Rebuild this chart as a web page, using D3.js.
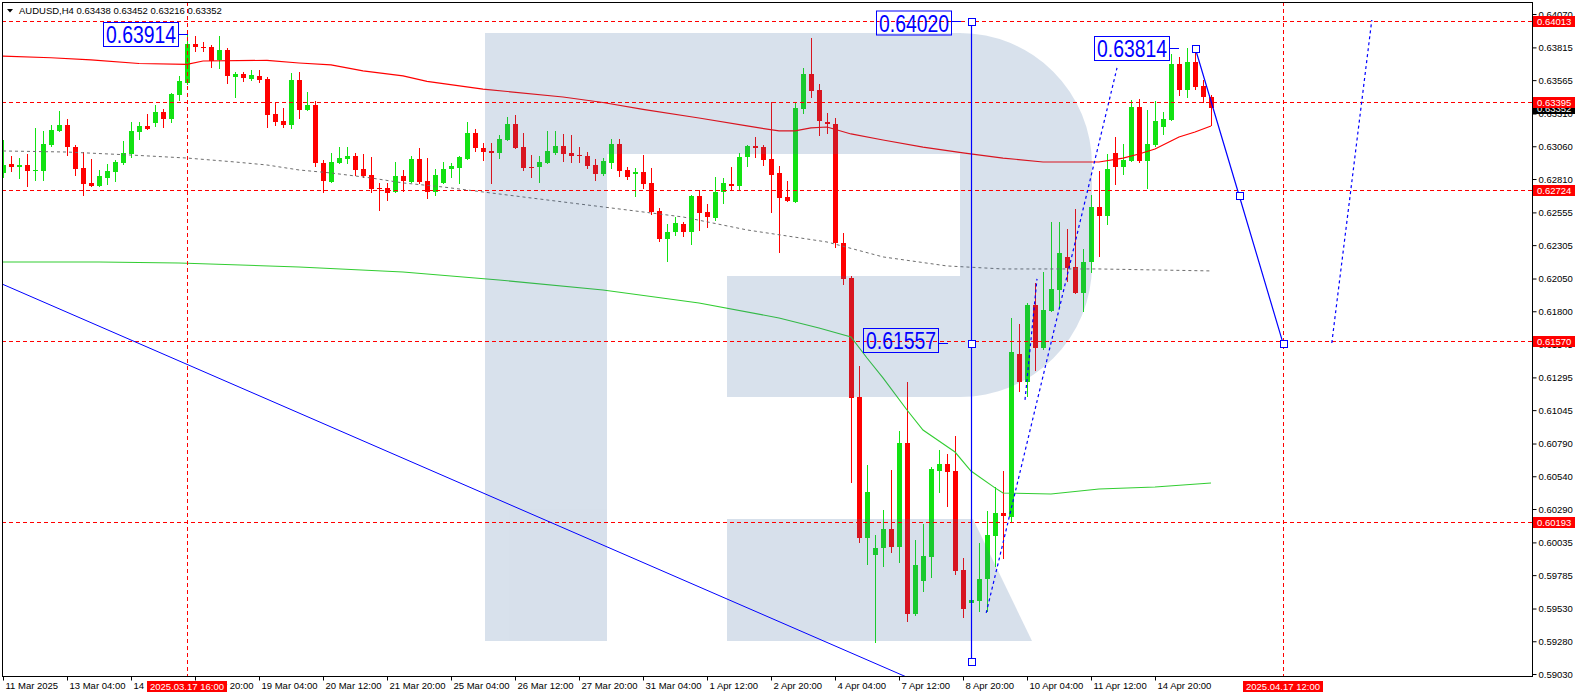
<!DOCTYPE html>
<html><head><meta charset="utf-8">
<script src="https://cdn.jsdelivr.net/npm/d3@7"></script>
<style>body{margin:0;background:#fff;} svg{display:block;}</style>
</head><body>
<svg id="c" width="1578" height="698"></svg>
<script>
// ---------------- DATA ----------------
const symbolTitle = "AUDUSD,H4";
const headerValues = ["0.63438", "0.63452", "0.63216", "0.63352"];

const opens = [0.62856,0.62925,0.62902,0.62917,0.62871,0.62871,0.63070,0.63177,0.63222,0.63054,
0.62894,0.62780,0.62757,0.62818,0.62864,0.62932,0.63001,0.63169,0.63215,0.63238,
0.63322,0.63268,0.63452,0.63543,0.63841,0.63818,0.63818,0.63719,0.63795,0.63589,
0.63612,0.63574,0.63597,0.63574,0.63306,0.63253,0.63222,0.63566,0.63337,0.63375,
0.62932,0.62787,0.62932,0.62963,0.62986,0.62886,0.62841,0.62741,0.62741,0.62711,
0.62833,0.62787,0.62963,0.62795,0.62711,0.62780,0.62886,0.62894,0.62963,0.63161,
0.63047,0.63024,0.63009,0.63108,0.63230,0.63054,0.62902,0.62902,0.62932,0.63009,
0.63062,0.63009,0.62993,0.62986,0.62917,0.62848,0.62932,0.63077,0.62879,0.62848,
0.62864,0.62780,0.62566,0.62352,0.62405,0.62467,0.62405,0.62680,0.62558,0.62512,
0.62711,0.62772,0.62757,0.62978,0.63062,0.63054,0.62963,0.62856,0.62673,0.62634,
0.63345,0.63612,0.63490,0.63245,0.63230,0.62321,0.62054,0.61145,0.60069,0.59939,
0.59992,0.60138,0.60000,0.60794,0.59488,0.59740,0.59924,0.60580,0.60634,0.60580,
0.59824,0.59572,0.59588,0.59756,0.60084,0.60260,0.60229,0.61474,0.61260,0.61848,
0.61520,0.61802,0.61962,0.62214,0.62138,0.61940,0.62176,0.62596,0.62528,0.63009,
0.62902,0.62948,0.63360,0.62948,0.63070,0.63207,0.63261,0.63688,0.63490,0.63703,
0.63520,0.63438];
const highs = [0.63108,0.62986,0.62970,0.63001,0.63200,0.63177,0.63222,0.63329,0.63268,0.63070,
0.63016,0.62963,0.62879,0.62925,0.62955,0.63100,0.63245,0.63245,0.63306,0.63375,
0.63345,0.63467,0.63597,0.63914,0.63902,0.63856,0.63833,0.63902,0.63810,0.63627,
0.63627,0.63642,0.63642,0.63589,0.63398,0.63352,0.63620,0.63627,0.63474,0.63406,
0.62955,0.63009,0.63054,0.63054,0.63009,0.63001,0.62978,0.62780,0.62780,0.62940,
0.62879,0.62986,0.63047,0.62970,0.62886,0.62940,0.62932,0.62986,0.63245,0.63192,
0.63085,0.63085,0.63146,0.63283,0.63299,0.63161,0.62993,0.62986,0.63177,0.63177,
0.63154,0.63146,0.63054,0.63016,0.62963,0.62970,0.63116,0.63116,0.62902,0.62894,
0.62993,0.62894,0.62589,0.62467,0.62520,0.62482,0.62688,0.62726,0.62619,0.62825,
0.62818,0.62902,0.63009,0.63070,0.63131,0.63070,0.63398,0.62909,0.62795,0.63398,
0.63658,0.63887,0.63536,0.63314,0.63276,0.62398,0.62069,0.61382,0.60626,0.60092,
0.60283,0.60588,0.60886,0.61260,0.60054,0.60176,0.60611,0.60741,0.60710,0.60848,
0.59916,0.59656,0.60031,0.60275,0.60458,0.60580,0.61749,0.61703,0.61863,0.62016,
0.62100,0.62482,0.62482,0.62428,0.62581,0.62276,0.62688,0.62871,0.63001,0.63131,
0.63077,0.63413,0.63421,0.63337,0.63406,0.63322,0.63765,0.63742,0.63810,0.63814,
0.63566,0.63452];
const lows = [0.62818,0.62864,0.62810,0.62749,0.62795,0.62795,0.63054,0.63169,0.62986,0.62833,
0.62680,0.62749,0.62749,0.62764,0.62787,0.62917,0.62970,0.63108,0.63184,0.63207,
0.63200,0.63238,0.63406,0.63530,0.63780,0.63780,0.63658,0.63650,0.63536,0.63429,
0.63551,0.63558,0.63543,0.63200,0.63215,0.63200,0.63192,0.63268,0.63329,0.62902,
0.62703,0.62780,0.62925,0.62925,0.62833,0.62818,0.62703,0.62566,0.62642,0.62703,
0.62711,0.62780,0.62772,0.62657,0.62680,0.62772,0.62818,0.62772,0.62955,0.63016,
0.62948,0.62772,0.62963,0.63100,0.63039,0.62871,0.62818,0.62780,0.62925,0.62993,
0.62940,0.62932,0.62932,0.62886,0.62795,0.62833,0.62886,0.62825,0.62802,0.62673,
0.62734,0.62535,0.62329,0.62176,0.62375,0.62367,0.62306,0.62413,0.62436,0.62489,
0.62619,0.62718,0.62718,0.62902,0.62970,0.62909,0.62550,0.62245,0.62634,0.62627,
0.63306,0.63429,0.63138,0.63154,0.62283,0.62001,0.60489,0.60031,0.59863,0.59267,
0.59847,0.59954,0.59878,0.59427,0.59473,0.59656,0.59763,0.60412,0.60305,0.59786,
0.59458,0.59550,0.59504,0.59504,0.59847,0.59908,0.60191,0.61184,0.61145,0.61344,
0.61504,0.61794,0.61833,0.62024,0.61932,0.61794,0.62092,0.62214,0.62459,0.62764,
0.62841,0.62940,0.62932,0.62734,0.63054,0.63146,0.63253,0.63444,0.63429,0.63490,
0.63390,0.63216];
const closes = [0.62917,0.62902,0.62917,0.62871,0.62879,0.63077,0.63184,0.63222,0.63054,0.62886,
0.62772,0.62757,0.62833,0.62871,0.62940,0.63009,0.63177,0.63215,0.63192,0.63322,
0.63268,0.63459,0.63558,0.63841,0.63818,0.63810,0.63711,0.63795,0.63597,0.63612,
0.63581,0.63604,0.63566,0.63299,0.63245,0.63222,0.63566,0.63337,0.63375,0.62932,
0.62795,0.62940,0.62970,0.62986,0.62879,0.62833,0.62734,0.62734,0.62703,0.62833,
0.62795,0.62963,0.62787,0.62711,0.62841,0.62886,0.62909,0.62978,0.63161,0.63047,
0.63016,0.63009,0.63116,0.63230,0.63047,0.62894,0.62894,0.62940,0.63024,0.63062,
0.63001,0.62986,0.62986,0.62909,0.62848,0.62948,0.63077,0.62871,0.62825,0.62864,
0.62772,0.62558,0.62352,0.62405,0.62474,0.62405,0.62680,0.62550,0.62520,0.62711,
0.62780,0.62757,0.62978,0.63062,0.63047,0.62955,0.62841,0.62665,0.62642,0.63352,
0.63612,0.63482,0.63253,0.63230,0.62321,0.62047,0.61138,0.60069,0.60420,0.59992,
0.60138,0.60000,0.60794,0.59488,0.59863,0.59931,0.60596,0.60634,0.60573,0.59817,
0.59527,0.59595,0.59756,0.60092,0.60260,0.60237,0.61489,0.61260,0.61848,0.61520,
0.61810,0.61970,0.62245,0.62130,0.61940,0.62176,0.62596,0.62528,0.62886,0.62902,
0.62955,0.63360,0.62948,0.63077,0.63253,0.63268,0.63688,0.63490,0.63703,0.63513,
0.63436,0.63352];

// time axis: every 8th H4 bar
const xTickBars = [0,8,16,24,32,40,48,56,64,72,80,88,96,104,112,120,128,136,144];
const xTickLabels = ["11 Mar 2025","13 Mar 04:00","14 Mar 12:00","17 Mar 20:00","19 Mar 04:00",
"20 Mar 12:00","21 Mar 20:00","25 Mar 04:00","26 Mar 12:00","27 Mar 20:00","31 Mar 04:00",
"1 Apr 12:00","2 Apr 20:00","4 Apr 04:00","7 Apr 12:00","8 Apr 20:00","10 Apr 04:00",
"11 Apr 12:00","14 Apr 20:00"];
const yTickValues = [0.64070,0.63815,0.63565,0.63310,0.63060,0.62810,0.62555,0.62305,0.62050,
0.61800,0.61545,0.61295,0.61045,0.60790,0.60540,0.60290,0.60035,0.59785,0.59530,0.59280,0.59030];

// horizontal levels (red dashed) and vertical time markers
const levelPrices = [0.64013, 0.63395, 0.62724, 0.61570, 0.60193];
const currentPrice = 0.63352;
const markerBars = [23, 160];
const markerLabels = ["2025.03.17 16:00", "2025.04.17 12:00"];

// moving averages (bar index, value)
const maRedBars = [0,6,11,17,23,25,33,37,41,45,50,53,60,70,75,80,87,93,97,99,101,103,106,110,115,120,125,130,137,140,142,144,146,147,149,151];
const maRedValues = [0.63749,0.63736,0.63719,0.63692,0.63686,0.63711,0.63716,0.63696,0.63681,0.63635,0.63597,0.63555,0.63497,0.63436,0.63394,0.63341,0.63276,0.63215,0.63177,0.63177,0.63200,0.63207,0.63154,0.63108,0.63054,0.63009,0.62970,0.62940,0.62940,0.62970,0.63001,0.63039,0.63100,0.63131,0.63169,0.63215];
const maGrayBars = [0,8,16,23,29,33,37,41,46,50,55,60,68,76,85,93,103,110,118,125,137,151];
const maGrayValues = [0.63024,0.63016,0.62993,0.62970,0.62940,0.62917,0.62879,0.62856,0.62818,0.62780,0.62749,0.62711,0.62650,0.62589,0.62520,0.62421,0.62329,0.62215,0.62146,0.62123,0.62123,0.62108];
const maGreenBars = [0,12,22,37,50,62,75,87,97,102,106,108,110,113,115,117,119,121,124,125,131,137,144,151];
const maGreenValues = [0.62176,0.62176,0.62169,0.62138,0.62100,0.62039,0.61962,0.61863,0.61749,0.61672,0.61604,0.61443,0.61291,0.61046,0.60893,0.60809,0.60725,0.60580,0.60451,0.60412,0.60405,0.60443,0.60458,0.60489];

// drawn objects
const trendBars = [0, 112];
const trendValues = [0.62005, 0.59032];
const vLineBar = 121;
const vLineValues = [0.64020, 0.61557, 0.59130];
const forecastBars = [149, 154.5, 160];
const forecastValues = [0.63814, 0.62688, 0.61557];
const dotABars = [122.9, 139.25], dotAValues = [0.59496, 0.63658];
const dotBBars = [127.75, 129.25], dotBValues = [0.61123, 0.62047];
const dotCBars = [166.1, 168.6, 171.1], dotCValues = [0.61558, 0.62787, 0.64024];
const priceLabelBars = [23, 121, 121, 149];
const priceLabelValues = [0.63914, 0.64020, 0.61557, 0.63814];

// ---------------- LAYOUT / STYLE ----------------
const FONT = "Tahoma, 'Liberation Sans', Arial, sans-serif";
const labelGap = [9, 20, 33, 26];
const labelDy = [0, 1.5, -3, 0];
const UP = "#12e212", DN = "#ff0000", BLUE = "#0000ff";

const svg = d3.select("#c");
const x = d3.scaleLinear().domain([0, 151]).range([3, 1211]);
const y = d3.scaleLinear().domain([0.59030, 0.64070]).range([674, 14]);

svg.append("rect").attr("width", 1578).attr("height", 698).attr("fill", "#fff");
svg.append("defs").append("clipPath").attr("id", "clip")
  .append("rect").attr("x", 2).attr("y", 2).attr("width", 1530).attr("height", 674);
const g = svg.append("g").attr("clip-path", "url(#clip)");

// candles
const bars = d3.range(opens.length).map(i => ({i, o: opens[i], h: highs[i], l: lows[i], c: closes[i]}));
const cg = g.append("g").attr("shape-rendering", "crispEdges");
cg.selectAll("rect.wick").data(bars).join("rect").attr("class", "wick")
  .attr("x", d => Math.round(x(d.i)))
  .attr("width", 1)
  .attr("y", d => Math.round(y(d.h)))
  .attr("height", d => Math.max(1, Math.round(y(d.l)) - Math.round(y(d.h))))
  .attr("fill", d => d.c >= d.o ? UP : DN);
cg.selectAll("rect.body").data(bars).join("rect").attr("class", "body")
  .attr("x", d => Math.round(x(d.i)) - 2)
  .attr("width", 5)
  .attr("y", d => Math.round(y(Math.max(d.o, d.c))))
  .attr("height", d => Math.max(1, Math.round(y(Math.min(d.o, d.c))) - Math.round(y(Math.max(d.o, d.c)))))
  .attr("fill", d => d.c >= d.o ? UP : DN);

// moving averages
const line = d3.line().x(d => x(d[0])).y(d => y(d[1]));
g.append("path").datum(d3.zip(maGrayBars, maGrayValues)).attr("d", line)
  .attr("fill", "none").attr("stroke", "#6e6e6e").attr("stroke-width", 1).attr("stroke-dasharray", "3,3");
g.append("path").datum(d3.zip(maGreenBars, maGreenValues)).attr("d", line)
  .attr("fill", "none").attr("stroke", "#32cd32").attr("stroke-width", 1.1);
g.append("path").datum(d3.zip(maRedBars, maRedValues)).attr("d", line)
  .attr("fill", "none").attr("stroke", "#ff0000").attr("stroke-width", 1.2);

// watermark logo (semi transparent overlay)
const logo = g.append("g").attr("fill", "rgb(60,105,160)").attr("opacity", 0.2);
logo.append("path").attr("d",
  "M485,33 H960 A132,132 0 0 1 1092,165 V265 A132,132 0 0 1 960,397 H727 V276 H960 V154 H607 V641 H485 Z");
logo.append("path").attr("d", "M727,519 H973 L1032,641 H727 Z");

// red dashed levels
const lv = g.append("g").attr("stroke", "#ff0000").attr("stroke-dasharray", "4,3").attr("shape-rendering", "crispEdges");
lv.selectAll("line.h").data(levelPrices).join("line").attr("class", "h")
  .attr("x1", 2).attr("x2", 1532)
  .attr("y1", d => Math.round(y(d)) + 0.5).attr("y2", d => Math.round(y(d)) + 0.5);
lv.selectAll("line.v").data(markerBars).join("line").attr("class", "v")
  .attr("y1", 2).attr("y2", 676)
  .attr("x1", d => Math.round(x(d)) + 0.5).attr("x2", d => Math.round(x(d)) + 0.5);

// blue trend line
const tSlope = (trendValues[1] - trendValues[0]) / (trendBars[1] - trendBars[0]);
const tb0 = -1, tb1 = 130;
g.append("line")
  .attr("x1", x(tb0)).attr("y1", y(trendValues[0] + tSlope * (tb0 - trendBars[0])))
  .attr("x2", x(tb1)).attr("y2", y(trendValues[0] + tSlope * (tb1 - trendBars[0])))
  .attr("stroke", BLUE).attr("stroke-width", 1);

// vertical blue line
g.append("line").attr("x1", Math.round(x(vLineBar)) + 0.5).attr("x2", Math.round(x(vLineBar)) + 0.5)
  .attr("y1", y(vLineValues[0])).attr("y2", y(vLineValues[2]))
  .attr("stroke", BLUE).attr("stroke-width", 1.2);

// forecast solid line
g.append("path").datum(d3.zip(forecastBars, forecastValues)).attr("d", line)
  .attr("fill", "none").attr("stroke", BLUE).attr("stroke-width", 1.2);

// dotted lines
[[dotABars, dotAValues], [dotBBars, dotBValues], [dotCBars, dotCValues]].forEach(([b, v]) => {
  g.append("path").datum(d3.zip(b, v)).attr("d", line)
    .attr("fill", "none").attr("stroke", BLUE).attr("stroke-width", 1.2).attr("stroke-dasharray", "3,3");
});

// square markers
const squares = vLineValues.map(v => [vLineBar, v]).concat(d3.zip(forecastBars, forecastValues));
g.selectAll("rect.sq").data(squares).join("rect").attr("class", "sq")
  .attr("x", d => Math.round(x(d[0])) - 3).attr("y", d => Math.round(y(d[1])) - 3)
  .attr("width", 7).attr("height", 7).attr("fill", "#fff").attr("stroke", BLUE).attr("stroke-width", 1)
  .attr("shape-rendering", "crispEdges");

// price label boxes
priceLabelValues.forEach((v, k) => {
  const ax = Math.round(x(priceLabelBars[k]));
  const right = ax - labelGap[k];
  const cy = Math.round(y(v)) + labelDy[k];
  const lg = g.append("g");
  lg.append("line").attr("x1", right).attr("x2", right + 10).attr("y1", Math.round(y(v)) + 0.5).attr("y2", Math.round(y(v)) + 0.5)
    .attr("stroke", BLUE).attr("stroke-width", 1);
  lg.append("rect").attr("x", right - 75 + 0.5).attr("y", cy - 12 + 0.5).attr("width", 75).attr("height", 24)
    .attr("fill", "none").attr("stroke", BLUE).attr("stroke-width", 1);
  lg.append("text").attr("x", right - 72).attr("y", cy + 9)
    .attr("font-family", FONT).attr("font-size", 24).attr("fill", BLUE)
    .attr("textLength", 70).attr("lengthAdjust", "spacingAndGlyphs")
    .text(d3.format(".5f")(v));
});

// frame
svg.append("rect").attr("x", 2.5).attr("y", 2.5).attr("width", 1530).attr("height", 674)
  .attr("fill", "none").attr("stroke", "#000").attr("stroke-width", 1).attr("shape-rendering", "crispEdges");

// right price axis
const ay = svg.append("g").attr("transform", "translate(1532.5,0)")
  .call(d3.axisRight(y).tickValues(yTickValues).tickFormat(d3.format(".5f")).tickSize(4));
ay.select(".domain").remove();
ay.attr("font-family", FONT).attr("font-size", 9.5);
ay.selectAll("line").attr("stroke", "#000");
ay.selectAll("text").attr("x", 6).attr("fill", "#000");

// current price (black) then level labels (red)
const pl = svg.append("g").attr("font-family", FONT).attr("font-size", 9.5);
function priceTag(p, fill) {
  const cy = Math.round(y(p));
  pl.append("rect").attr("x", 1533).attr("y", cy - 5).attr("width", 42).attr("height", 11).attr("fill", fill);
  pl.append("text").attr("x", 1537).attr("y", cy + 4).attr("fill", "#fff").text(d3.format(".5f")(p));
}
priceTag(currentPrice, "#000");
levelPrices.forEach(p => priceTag(p, "#ff0000"));

// bottom time axis
const ax = svg.append("g").attr("transform", "translate(0,676.5)")
  .call(d3.axisBottom(x).tickValues(xTickBars).tickFormat((d, i) => xTickLabels[i]).tickSize(4));
ax.select(".domain").remove();
ax.attr("font-family", FONT).attr("font-size", 9.5);
ax.selectAll("line").attr("stroke", "#000");
ax.selectAll("text").attr("text-anchor", "start").attr("x", 2).attr("y", 6).attr("fill", "#000");

// time marker labels
markerBars.forEach((b, k) => {
  const cx = Math.round(x(b));
  svg.append("rect").attr("x", cx - 40).attr("y", 681).attr("width", 80).attr("height", 11).attr("fill", "#ff0000");
  svg.append("text").attr("x", cx).attr("y", 690).attr("text-anchor", "middle")
    .attr("font-family", FONT).attr("font-size", 9.5).attr("fill", "#fff").text(markerLabels[k]);
});

// header
svg.append("path").attr("d", "M7,9 L13,9 L10,12.5 Z").attr("fill", "#000");
svg.append("text").attr("x", 19).attr("y", 14).attr("font-family", FONT).attr("font-size", 9.5).attr("fill", "#000")
  .text(symbolTitle + "  " + headerValues.join(" "));
</script>
</body></html>
